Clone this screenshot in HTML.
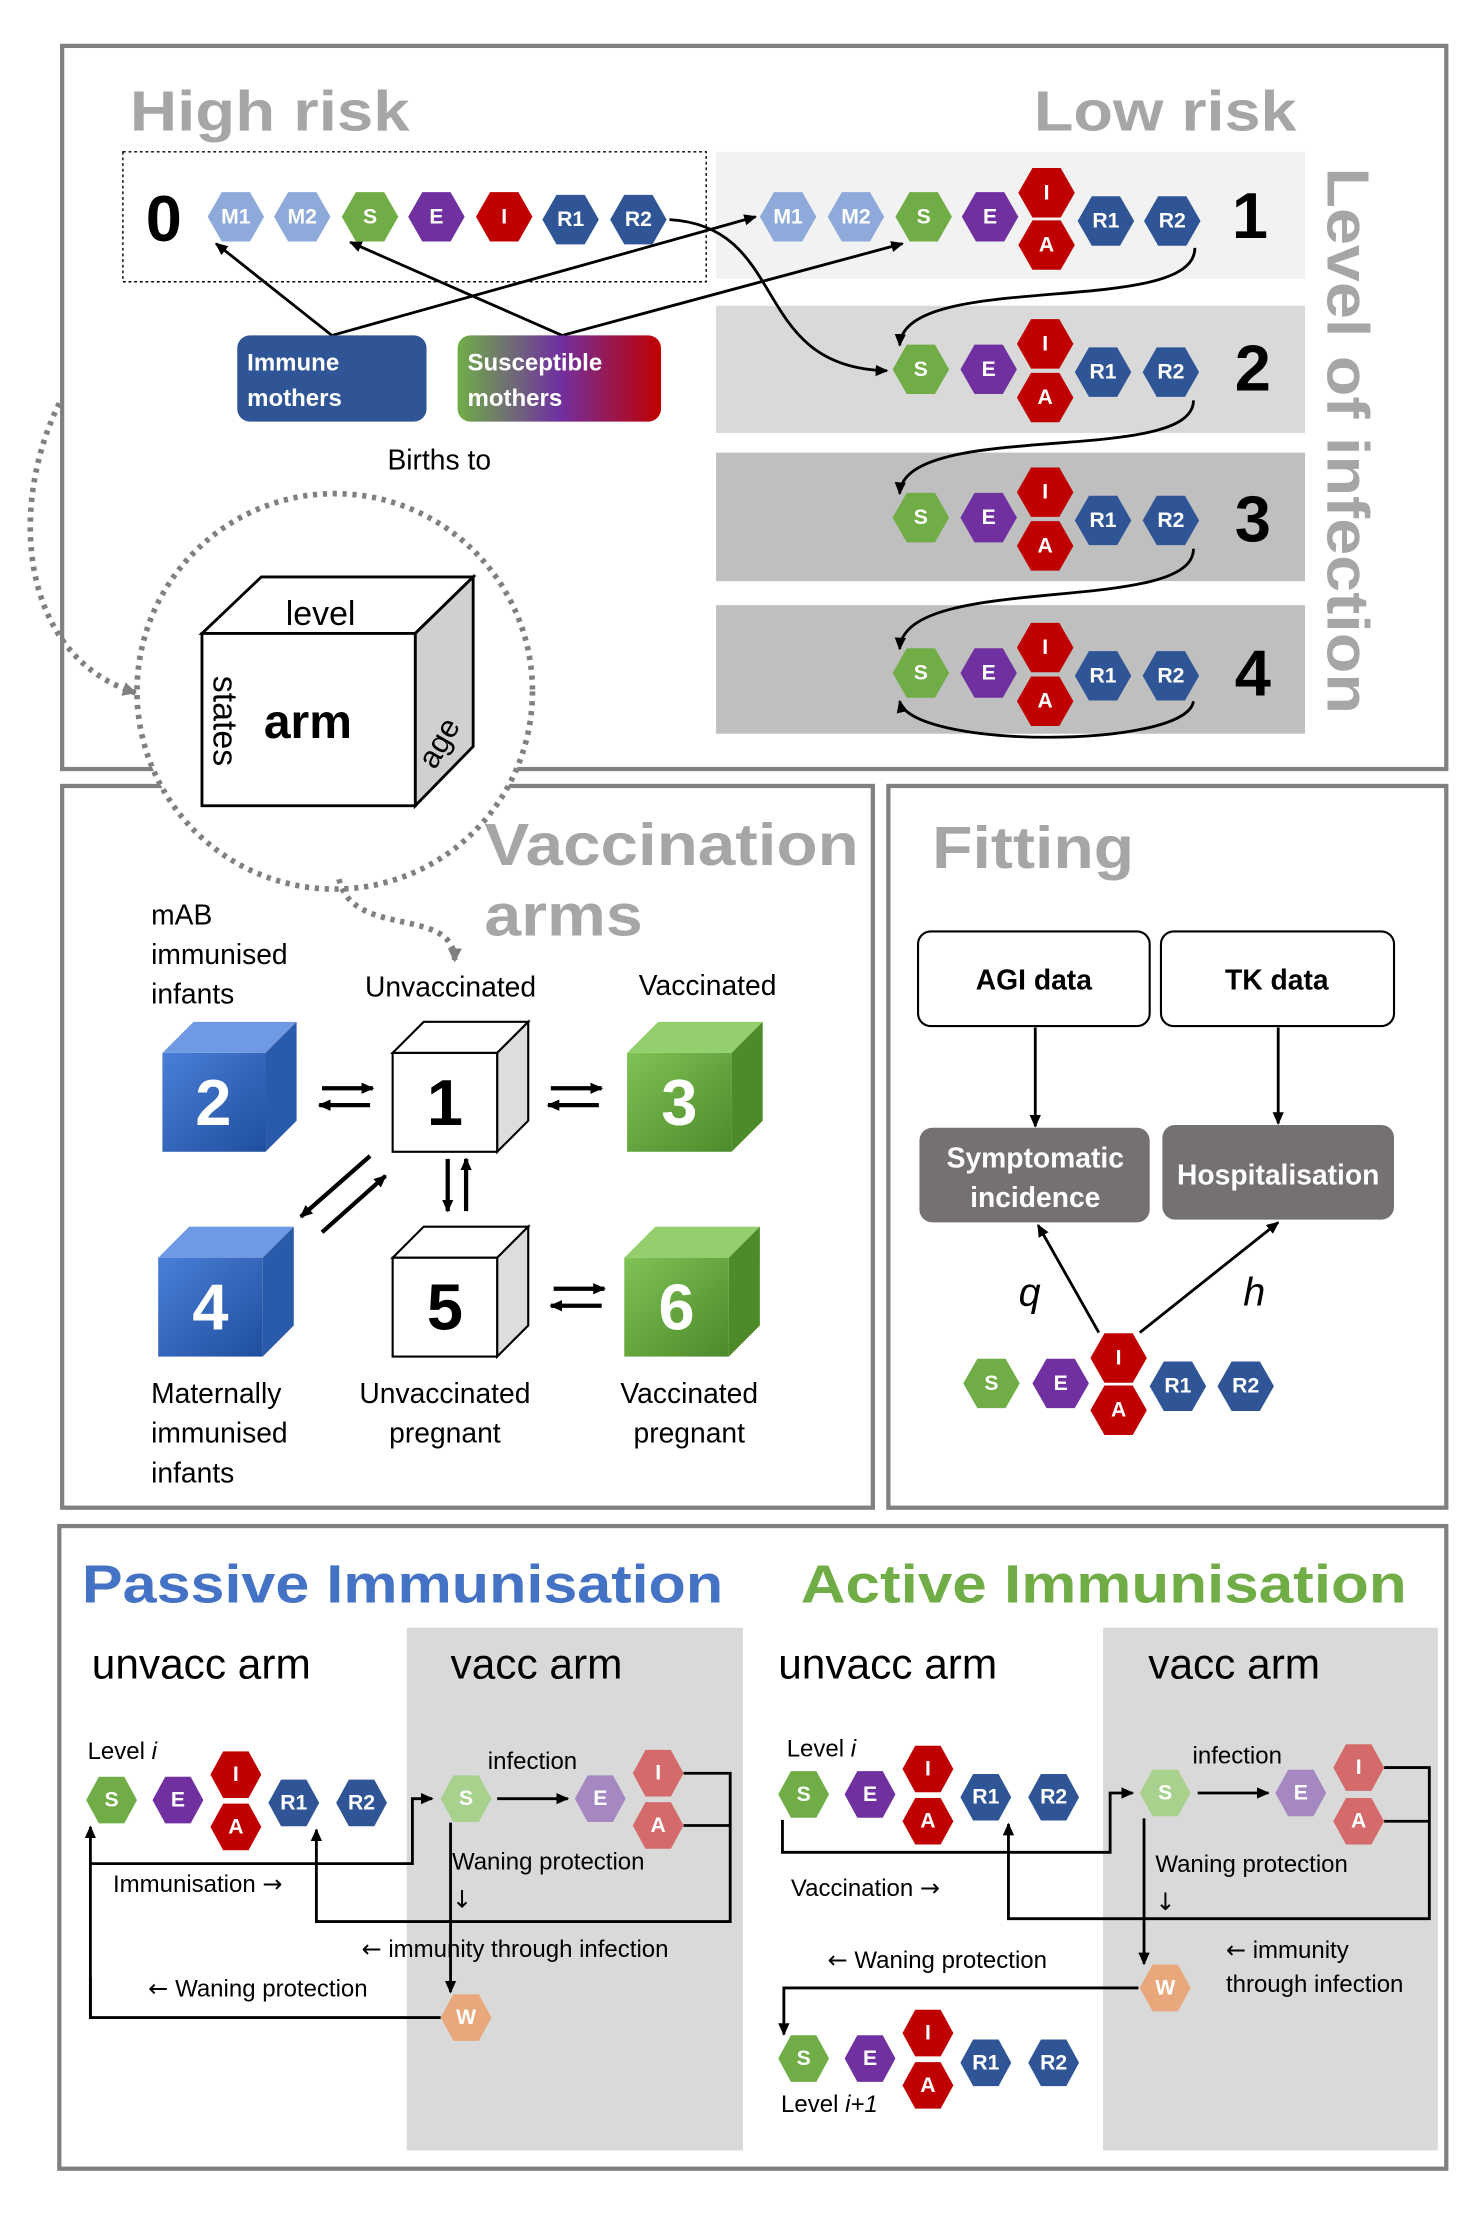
<!DOCTYPE html>
<html><head><meta charset="utf-8"><style>
html,body{margin:0;padding:0;background:#fff;}
svg{display:block;font-family:"Liberation Sans",sans-serif;}
.hl{fill:#fff;font-weight:bold;font-size:15px;text-anchor:middle;dominant-baseline:central;}
.t{font-size:20px;fill:#000;}
.g{font-weight:bold;fill:#a6a6a6;}
.ar{font-family:"DejaVu Sans",sans-serif;}
</style></head><body>
<svg width="1483" height="2216" viewBox="0 0 1050 1568" xmlns="http://www.w3.org/2000/svg">
<defs>
<polygon id="hx" points="-20,0 -10,-17.5 10,-17.5 20,0 10,17.5 -10,17.5"/>
<polygon id="hs" points="-18,0 -9,-16.5 9,-16.5 18,0 9,16.5 -9,16.5"/>
<marker id="ar" markerWidth="10" markerHeight="10" refX="8" refY="5" orient="auto" markerUnits="userSpaceOnUse"><path d="M0,1 L9,5 L0,9 z" fill="#000"/></marker>
<marker id="ag" markerWidth="12" markerHeight="12" refX="9" refY="6" orient="auto" markerUnits="userSpaceOnUse"><path d="M0,1 L10,6 L0,11 z" fill="#808080"/></marker>
<linearGradient id="sg" x1="0" x2="1" y1="0" y2="0"><stop offset="0" stop-color="#70ad47"/><stop offset="0.5" stop-color="#7030a0"/><stop offset="1" stop-color="#c00000"/></linearGradient>
<linearGradient id="bc" x1="0" x2="1" y1="0" y2="1"><stop offset="0" stop-color="#4a7fd8"/><stop offset="1" stop-color="#1f4e9e"/></linearGradient>
<linearGradient id="gc" x1="0" x2="1" y1="0" y2="1"><stop offset="0" stop-color="#7fc255"/><stop offset="1" stop-color="#4c8a2a"/></linearGradient>
</defs>

<!-- TOP BOX -->
<rect x="44" y="32" width="980" height="512" fill="#fff" stroke="#808080" stroke-width="3"/>
<text x="92" y="92" class="g" font-size="40" textLength="198" lengthAdjust="spacingAndGlyphs">High risk</text>
<text x="732" y="92" class="g" font-size="40" textLength="186" lengthAdjust="spacingAndGlyphs">Low risk</text>
<rect x="507" y="107" width="417" height="90" fill="#f2f2f2"/>
<rect x="507" y="216" width="417" height="90" fill="#d9d9d9"/>
<rect x="507" y="320" width="417" height="91" fill="#bfbfbf"/>
<rect x="507" y="428" width="417" height="91" fill="#bfbfbf"/>
<rect x="87" y="107" width="413" height="92" fill="none" stroke="#000" stroke-width="1" stroke-dasharray="2,2"/>
<text x="116" y="170" font-size="46" font-weight="bold" text-anchor="middle">0</text>
<g>
<use href="#hx" x="167" y="153" fill="#8eaadb"/><text class="hl" x="167" y="153">M1</text>
<use href="#hx" x="214" y="153" fill="#8eaadb"/><text class="hl" x="214" y="153">M2</text>
<use href="#hx" x="262" y="153" fill="#70ad47"/><text class="hl" x="262" y="153">S</text>
<use href="#hx" x="309" y="153" fill="#7030a0"/><text class="hl" x="309" y="153">E</text>
<use href="#hx" x="357" y="153" fill="#c00000"/><text class="hl" x="357" y="153">I</text>
<use href="#hx" x="404" y="155" fill="#2f5597"/><text class="hl" x="404" y="155">R1</text>
<use href="#hx" x="452" y="155" fill="#2f5597"/><text class="hl" x="452" y="155">R2</text>
</g>
<g>
<use href="#hx" x="558" y="153" fill="#8eaadb"/><text class="hl" x="558" y="153">M1</text>
<use href="#hx" x="606" y="153" fill="#8eaadb"/><text class="hl" x="606" y="153">M2</text>
<use href="#hx" x="654" y="153" fill="#70ad47"/><text class="hl" x="654" y="153">S</text>
<use href="#hx" x="701" y="153" fill="#7030a0"/><text class="hl" x="701" y="153">E</text>
<use href="#hx" x="741" y="136" fill="#c00000"/><text class="hl" x="741" y="136">I</text>
<use href="#hx" x="741" y="173" fill="#c00000"/><text class="hl" x="741" y="173">A</text>
<use href="#hx" x="783" y="156" fill="#2f5597"/><text class="hl" x="783" y="156">R1</text>
<use href="#hx" x="830" y="156" fill="#2f5597"/><text class="hl" x="830" y="156">R2</text>
</g>
<text x="885" y="168" font-size="46" font-weight="bold" text-anchor="middle">1</text>
<g>
<use href="#hx" x="652" y="261" fill="#70ad47"/><text class="hl" x="652" y="261">S</text>
<use href="#hx" x="700" y="261" fill="#7030a0"/><text class="hl" x="700" y="261">E</text>
<use href="#hx" x="740" y="243" fill="#c00000"/><text class="hl" x="740" y="243">I</text>
<use href="#hx" x="740" y="281" fill="#c00000"/><text class="hl" x="740" y="281">A</text>
<use href="#hx" x="781" y="263" fill="#2f5597"/><text class="hl" x="781" y="263">R1</text>
<use href="#hx" x="829" y="263" fill="#2f5597"/><text class="hl" x="829" y="263">R2</text>
</g>
<text x="887" y="276" font-size="46" font-weight="bold" text-anchor="middle">2</text>
<g>
<use href="#hx" x="652" y="366" fill="#70ad47"/><text class="hl" x="652" y="366">S</text>
<use href="#hx" x="700" y="366" fill="#7030a0"/><text class="hl" x="700" y="366">E</text>
<use href="#hx" x="740" y="348" fill="#c00000"/><text class="hl" x="740" y="348">I</text>
<use href="#hx" x="740" y="386" fill="#c00000"/><text class="hl" x="740" y="386">A</text>
<use href="#hx" x="781" y="368" fill="#2f5597"/><text class="hl" x="781" y="368">R1</text>
<use href="#hx" x="829" y="368" fill="#2f5597"/><text class="hl" x="829" y="368">R2</text>
</g>
<text x="887" y="383" font-size="46" font-weight="bold" text-anchor="middle">3</text>
<g>
<use href="#hx" x="652" y="476" fill="#70ad47"/><text class="hl" x="652" y="476">S</text>
<use href="#hx" x="700" y="476" fill="#7030a0"/><text class="hl" x="700" y="476">E</text>
<use href="#hx" x="740" y="458" fill="#c00000"/><text class="hl" x="740" y="458">I</text>
<use href="#hx" x="740" y="496" fill="#c00000"/><text class="hl" x="740" y="496">A</text>
<use href="#hx" x="781" y="478" fill="#2f5597"/><text class="hl" x="781" y="478">R1</text>
<use href="#hx" x="829" y="478" fill="#2f5597"/><text class="hl" x="829" y="478">R2</text>
</g>
<text x="887" y="492" font-size="46" font-weight="bold" text-anchor="middle">4</text>
<g fill="none" stroke="#000" stroke-width="2" marker-end="url(#ar)">
<path d="M846,175 C846,225 640,190 637,244"/>
<path d="M845,283 C845,330 640,296 637,349"/>
<path d="M845,388 C845,436 640,404 637,459"/>
<path d="M845,496 C840,530 645,530 637,496"/>
<path d="M474,155 C560,160 530,260 628,262"/>
<path d="M235,237 L153,172"/>
<path d="M235,237 L535,153"/>
<path d="M398,237 L248,171"/>
<path d="M398,237 L639,172"/>
</g>
<rect x="168" y="237" width="134" height="61" rx="9" fill="#2f5597"/>
<text x="175" y="262" fill="#fff" font-weight="bold" font-size="17">Immune</text>
<text x="175" y="287" fill="#fff" font-weight="bold" font-size="17">mothers</text>
<rect x="324" y="237" width="144" height="61" rx="9" fill="url(#sg)"/>
<text x="331" y="262" fill="#fff" font-weight="bold" font-size="17">Susceptible</text>
<text x="331" y="287" fill="#fff" font-weight="bold" font-size="17">mothers</text>
<text x="311" y="332" class="t" text-anchor="middle">Births to</text>
<text transform="translate(940,118) rotate(90)" class="g" font-size="42" textLength="387" lengthAdjust="spacingAndGlyphs">Level of infection</text>

<!-- MIDDLE LEFT BOX -->
<rect x="44" y="556" width="574" height="511" fill="#fff" stroke="#808080" stroke-width="3"/>
<circle cx="237" cy="489" r="140" fill="#fff" stroke="#808080" stroke-width="4" stroke-dasharray="3,4"/>
<path d="M42,285 C5,360 15,465 96,490" fill="none" stroke="#808080" stroke-width="4" stroke-dasharray="3,4" marker-end="url(#ag)"/>
<path d="M240,622 C250,665 322,640 322,680" fill="none" stroke="#808080" stroke-width="4" stroke-dasharray="3,4" marker-end="url(#ag)"/>
<polygon points="143,448 185,408 335,408 294,448" fill="#fff" stroke="#000" stroke-width="2"/>
<polygon points="294,448 335,408 335,528 294,570" fill="#d0d0d0" stroke="#000" stroke-width="2"/>
<rect x="143" y="448" width="151" height="122" fill="#fff" stroke="#000" stroke-width="2"/>
<text x="227" y="442" font-size="24" text-anchor="middle">level</text>
<text x="218" y="522" font-size="34" font-weight="bold" text-anchor="middle">arm</text>
<text transform="translate(151,478) rotate(90)" font-size="24">states</text>
<text transform="translate(308,545) rotate(-60)" font-size="22">age</text>

<text x="343" y="612" class="g" font-size="42" textLength="265" lengthAdjust="spacingAndGlyphs">Vaccination</text>
<text x="343" y="662" class="g" font-size="42" textLength="112" lengthAdjust="spacingAndGlyphs">arms</text>
<text x="107" y="654" class="t">mAB</text>
<text x="107" y="682" class="t">immunised</text>
<text x="107" y="710" class="t">infants</text>
<text x="319" y="705" class="t" text-anchor="middle">Unvaccinated</text>
<text x="501" y="704" class="t" text-anchor="middle">Vaccinated</text>
<g>
<polygon points="115,745 137,723 210,723 188,745" fill="#6f9ae3"/><polygon points="188,745 210,723 210,793 188,815" fill="#2a5aaa"/><rect x="115" y="745" width="73" height="70" fill="url(#bc)"/>
<text x="151" y="796" font-size="46" font-weight="bold" fill="#fff" text-anchor="middle">2</text>
<polygon points="278,745 300,723 374,723 352,745" fill="#fff" stroke="#000" stroke-width="1.5"/><polygon points="352,745 374,723 374,793 352,815" fill="#ddd" stroke="#000" stroke-width="1.5"/><rect x="278" y="745" width="74" height="70" fill="#fff" stroke="#000" stroke-width="1.5"/>
<text x="315" y="796" font-size="46" font-weight="bold" text-anchor="middle">1</text>
<polygon points="444,745 466,723 540,723 518,745" fill="#93cf6c"/><polygon points="518,745 540,723 540,793 518,815" fill="#4c8a2a"/><rect x="444" y="745" width="74" height="70" fill="url(#gc)"/>
<text x="481" y="796" font-size="46" font-weight="bold" fill="#fff" text-anchor="middle">3</text>
<polygon points="112,890 134,868 208,868 186,890" fill="#6f9ae3"/><polygon points="186,890 208,868 208,938 186,960" fill="#2a5aaa"/><rect x="112" y="890" width="74" height="70" fill="url(#bc)"/>
<text x="149" y="941" font-size="46" font-weight="bold" fill="#fff" text-anchor="middle">4</text>
<polygon points="278,890 300,868 374,868 352,890" fill="#fff" stroke="#000" stroke-width="1.5"/><polygon points="352,890 374,868 374,938 352,960" fill="#ddd" stroke="#000" stroke-width="1.5"/><rect x="278" y="890" width="74" height="70" fill="#fff" stroke="#000" stroke-width="1.5"/>
<text x="315" y="941" font-size="46" font-weight="bold" text-anchor="middle">5</text>
<polygon points="442,890 464,868 538,868 516,890" fill="#93cf6c"/><polygon points="516,890 538,868 538,938 516,960" fill="#4c8a2a"/><rect x="442" y="890" width="74" height="70" fill="url(#gc)"/>
<text x="479" y="941" font-size="46" font-weight="bold" fill="#fff" text-anchor="middle">6</text>
</g>
<g stroke="#000" stroke-width="3" marker-end="url(#ar)">
<line x1="228" y1="770" x2="264" y2="770"/><line x1="262" y1="782" x2="226" y2="782"/>
<line x1="390" y1="770" x2="426" y2="770"/><line x1="424" y1="782" x2="388" y2="782"/>
<line x1="392" y1="912" x2="428" y2="912"/><line x1="426" y1="924" x2="390" y2="924"/>
<line x1="317" y1="820" x2="317" y2="857"/><line x1="330" y1="857" x2="330" y2="820"/>
<line x1="262" y1="818" x2="213" y2="861"/><line x1="228" y1="872" x2="273" y2="832"/>
</g>
<text x="107" y="993" class="t">Maternally</text>
<text x="107" y="1021" class="t">immunised</text>
<text x="107" y="1049" class="t">infants</text>
<text x="315" y="993" class="t" text-anchor="middle">Unvaccinated</text>
<text x="315" y="1021" class="t" text-anchor="middle">pregnant</text>
<text x="488" y="993" class="t" text-anchor="middle">Vaccinated</text>
<text x="488" y="1021" class="t" text-anchor="middle">pregnant</text>

<!-- FITTING BOX -->
<rect x="629" y="556" width="395" height="511" fill="#fff" stroke="#808080" stroke-width="3"/>
<text x="660" y="614" class="g" font-size="42" textLength="143" lengthAdjust="spacingAndGlyphs">Fitting</text>
<rect x="650" y="659" width="164" height="67" rx="9" fill="#fff" stroke="#000" stroke-width="1.5"/>
<text x="732" y="700" font-size="20" font-weight="bold" text-anchor="middle">AGI data</text>
<rect x="822" y="659" width="165" height="67" rx="9" fill="#fff" stroke="#000" stroke-width="1.5"/>
<text x="904" y="700" font-size="20" font-weight="bold" text-anchor="middle">TK data</text>
<rect x="651" y="798" width="163" height="67" rx="9" fill="#767171"/>
<text x="733" y="826" font-size="20" font-weight="bold" fill="#fff" text-anchor="middle">Symptomatic</text>
<text x="733" y="854" font-size="20" font-weight="bold" fill="#fff" text-anchor="middle">incidence</text>
<rect x="823" y="796" width="164" height="67" rx="9" fill="#767171"/>
<text x="905" y="838" font-size="20" font-weight="bold" fill="#fff" text-anchor="middle">Hospitalisation</text>
<g stroke="#000" stroke-width="2" marker-end="url(#ar)">
<line x1="733" y1="727" x2="733" y2="797"/><line x1="905" y1="727" x2="905" y2="795"/>
<line x1="778" y1="943" x2="735" y2="867"/><line x1="807" y1="943" x2="905" y2="865"/>
</g>
<text x="729" y="924" font-size="28" font-style="italic" text-anchor="middle">q</text>
<text x="888" y="924" font-size="28" font-style="italic" text-anchor="middle">h</text>
<use href="#hx" x="702" y="979" fill="#70ad47"/><text class="hl" x="702" y="979">S</text>
<use href="#hx" x="751" y="979" fill="#7030a0"/><text class="hl" x="751" y="979">E</text>
<use href="#hx" x="792" y="961" fill="#c00000"/><text class="hl" x="792" y="961">I</text>
<use href="#hx" x="792" y="998" fill="#c00000"/><text class="hl" x="792" y="998">A</text>
<use href="#hx" x="834" y="981" fill="#2f5597"/><text class="hl" x="834" y="981">R1</text>
<use href="#hx" x="882" y="981" fill="#2f5597"/><text class="hl" x="882" y="981">R2</text>

<!-- BOTTOM BOX -->
<rect x="42" y="1080" width="982" height="455" fill="#fff" stroke="#808080" stroke-width="3"/>
<rect x="288" y="1152" width="238" height="370" fill="#d9d9d9"/>
<rect x="781" y="1152" width="237" height="370" fill="#d9d9d9"/>
<text x="58" y="1134" font-size="38" font-weight="bold" fill="#4472c4" textLength="454" lengthAdjust="spacingAndGlyphs">Passive Immunisation</text>
<text x="567" y="1134" font-size="38" font-weight="bold" fill="#70ad47" textLength="429" lengthAdjust="spacingAndGlyphs">Active Immunisation</text>
<text x="65" y="1188" font-size="30">unvacc arm</text>
<text x="319" y="1188" font-size="30">vacc arm</text>
<text x="551" y="1188" font-size="30">unvacc arm</text>
<text x="813" y="1188" font-size="30">vacc arm</text>

<!-- passive -->
<text x="62" y="1245" font-size="17">Level <tspan font-style="italic">i</tspan></text>
<g fill="none" stroke="#000" stroke-width="2">
<polyline points="64,1428 64,1319 292,1319 292,1273 306,1273" marker-end="url(#ar)"/>
<line x1="64" y1="1319" x2="64" y2="1293" marker-end="url(#ar)"/>
<polyline points="312,1428 64,1428 64,1400"/>
<line x1="352" y1="1273" x2="402" y2="1273" marker-end="url(#ar)"/>
<polyline points="484,1255 517,1255 517,1360 224,1360 224,1295" marker-end="url(#ar)"/>
<line x1="484" y1="1292" x2="517" y2="1292"/>
<line x1="319" y1="1290" x2="319" y2="1410" marker-end="url(#ar)"/>
</g>
<use href="#hs" x="79" y="1274" fill="#70ad47"/><text class="hl" x="79" y="1274">S</text>
<use href="#hs" x="126" y="1274" fill="#7030a0"/><text class="hl" x="126" y="1274">E</text>
<use href="#hs" x="167" y="1256" fill="#c00000"/><text class="hl" x="167" y="1256">I</text>
<use href="#hs" x="167" y="1293" fill="#c00000"/><text class="hl" x="167" y="1293">A</text>
<use href="#hs" x="208" y="1276" fill="#2f5597"/><text class="hl" x="208" y="1276">R1</text>
<use href="#hs" x="256" y="1276" fill="#2f5597"/><text class="hl" x="256" y="1276">R2</text>
<use href="#hs" x="330" y="1273" fill="#a9d18e"/><text class="hl" x="330" y="1273">S</text>
<use href="#hs" x="425" y="1273" fill="#a587c2"/><text class="hl" x="425" y="1273">E</text>
<use href="#hs" x="466" y="1255" fill="#d46a6a"/><text class="hl" x="466" y="1255">I</text>
<use href="#hs" x="466" y="1292" fill="#d46a6a"/><text class="hl" x="466" y="1292">A</text>
<use href="#hs" x="330" y="1428" fill="#e8a87c"/><text class="hl" x="330" y="1428">W</text>
<text x="377" y="1252" font-size="17" text-anchor="middle">infection</text>
<text x="80" y="1339" font-size="17">Immunisation <tspan class="ar">→</tspan></text>
<text x="320" y="1323" font-size="17">Waning protection</text>
<text x="320" y="1350" font-size="17" class="ar">↓</text>
<text x="256" y="1385" font-size="17"><tspan class="ar">←</tspan> immunity through infection</text>
<text x="105" y="1413" font-size="17"><tspan class="ar">←</tspan> Waning protection</text>

<!-- active -->
<text x="557" y="1243" font-size="17">Level <tspan font-style="italic">i</tspan></text>
<g fill="none" stroke="#000" stroke-width="2">
<polyline points="554,1288 554,1311 786,1311 786,1269 802,1269" marker-end="url(#ar)"/>
<line x1="848" y1="1269" x2="898" y2="1269" marker-end="url(#ar)"/>
<polyline points="980,1251 1012,1251 1012,1358 714,1358 714,1291" marker-end="url(#ar)"/>
<line x1="980" y1="1289" x2="1012" y2="1289"/>
<line x1="810" y1="1287" x2="810" y2="1390" marker-end="url(#ar)"/>
<polyline points="806,1407 555,1407 555,1440" marker-end="url(#ar)"/>
</g>
<use href="#hs" x="569" y="1270" fill="#70ad47"/><text class="hl" x="569" y="1270">S</text>
<use href="#hs" x="616" y="1270" fill="#7030a0"/><text class="hl" x="616" y="1270">E</text>
<use href="#hs" x="657" y="1252" fill="#c00000"/><text class="hl" x="657" y="1252">I</text>
<use href="#hs" x="657" y="1289" fill="#c00000"/><text class="hl" x="657" y="1289">A</text>
<use href="#hs" x="698" y="1272" fill="#2f5597"/><text class="hl" x="698" y="1272">R1</text>
<use href="#hs" x="746" y="1272" fill="#2f5597"/><text class="hl" x="746" y="1272">R2</text>
<use href="#hs" x="825" y="1269" fill="#a9d18e"/><text class="hl" x="825" y="1269">S</text>
<use href="#hs" x="921" y="1269" fill="#a587c2"/><text class="hl" x="921" y="1269">E</text>
<use href="#hs" x="962" y="1251" fill="#d46a6a"/><text class="hl" x="962" y="1251">I</text>
<use href="#hs" x="962" y="1289" fill="#d46a6a"/><text class="hl" x="962" y="1289">A</text>
<use href="#hs" x="825" y="1407" fill="#e8a87c"/><text class="hl" x="825" y="1407">W</text>
<use href="#hs" x="569" y="1457" fill="#70ad47"/><text class="hl" x="569" y="1457">S</text>
<use href="#hs" x="616" y="1457" fill="#7030a0"/><text class="hl" x="616" y="1457">E</text>
<use href="#hs" x="657" y="1439" fill="#c00000"/><text class="hl" x="657" y="1439">I</text>
<use href="#hs" x="657" y="1476" fill="#c00000"/><text class="hl" x="657" y="1476">A</text>
<use href="#hs" x="698" y="1460" fill="#2f5597"/><text class="hl" x="698" y="1460">R1</text>
<use href="#hs" x="746" y="1460" fill="#2f5597"/><text class="hl" x="746" y="1460">R2</text>
<text x="876" y="1248" font-size="17" text-anchor="middle">infection</text>
<text x="560" y="1342" font-size="17">Vaccination <tspan class="ar">→</tspan></text>
<text x="818" y="1325" font-size="17">Waning protection</text>
<text x="818" y="1352" font-size="17" class="ar">↓</text>
<text x="586" y="1393" font-size="17"><tspan class="ar">←</tspan> Waning protection</text>
<text x="868" y="1386" font-size="17"><tspan class="ar">←</tspan> immunity</text>
<text x="868" y="1410" font-size="17">through infection</text>
<text x="553" y="1495" font-size="17">Level <tspan font-style="italic">i+1</tspan></text>
</svg>
</body></html>
